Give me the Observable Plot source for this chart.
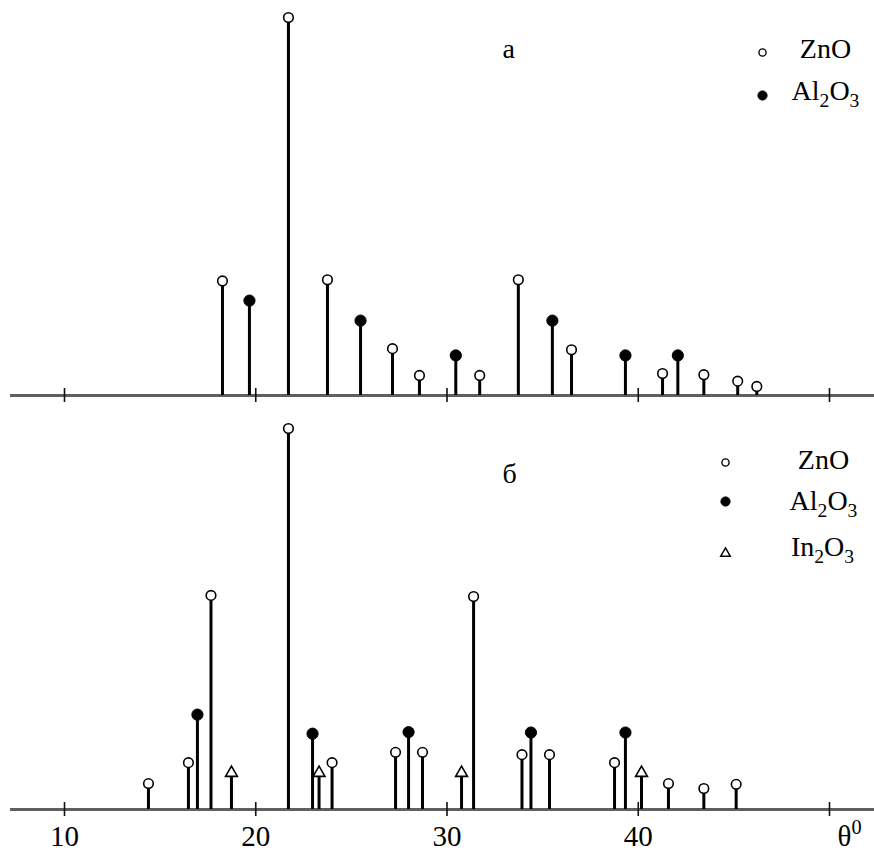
<!DOCTYPE html>
<html>
<head>
<meta charset="utf-8">
<script src="https://cdn.jsdelivr.net/npm/d3@7"></script>
<script src="https://cdn.jsdelivr.net/npm/@observablehq/plot@0.6"></script>
<style>
  html, body { margin: 0; padding: 0; background: #fff; }
  #chart { width: 874px; }
  #chart svg { display: block; }
</style>
</head>
<body>
<div id="chart"></div>
<script>
// ---- data ----
const topZnO_theta = [18.26, 21.71, 23.75, 27.15, 28.56, 31.71, 33.73, 36.51, 41.27, 43.43, 45.20, 46.20];
const topZnO_I     = [30.3, 100, 30.6, 12.4, 5.3, 5.3, 30.6, 12.1, 5.8, 5.5, 3.8, 2.4];
const topAl_theta  = [19.67, 25.48, 30.46, 35.51, 39.33, 42.07];
const topAl_I      = [25.1, 19.8, 10.6, 19.8, 10.6, 10.6];

const botZnO_theta = [14.39, 16.48, 17.66, 21.71, 23.99, 27.31, 28.72, 31.39, 33.92, 35.36, 38.76, 41.58, 43.43, 45.12];
const botZnO_I     = [6.8, 12.3, 56.2, 100, 12.3, 15.0, 15.0, 55.9, 14.4, 14.4, 12.3, 6.8, 5.5, 6.6];
const botAl_theta  = [16.95, 22.97, 27.99, 34.39, 39.33];
const botAl_I      = [24.9, 19.9, 20.3, 20.2, 20.2];
const botIn_theta  = [18.73, 23.31, 30.76, 40.17];
const botIn_I      = [9.6, 9.6, 9.6, 9.6];

const tickValues = [10, 20, 30, 40, 50];
const tickLabels = ["10", "20", "30", "40", "θ0"];
const phases = ["ZnO", "Al2O3", "In2O3"];
const panelLabels = ["а", "б"];

// ---- helpers ----
const FONT = "Liberation Serif, Times New Roman, serif";
const xDomain = [7.1765, 52.353];

function rows(thetas, Is, phase) {
  return thetas.map((t, i) => ({theta: t, I: Is[i], phase}));
}

const styleFor = {
  "ZnO":   {symbol: "circle", r: 4.8, fill: "white", stroke: "black", strokeWidth: 1.6},
  "Al2O3": {symbol: "circle", r: 5.6, fill: "black", stroke: "black", strokeWidth: 1},
  "In2O3": {symbol: "triangle", r: 4.4, fill: "white", stroke: "black", strokeWidth: 1.6}
};
const legendStyle = {
  "ZnO":   {symbol: "circle", r: 3.6, fill: "white", stroke: "black", strokeWidth: 1.4},
  "Al2O3": {symbol: "circle", r: 4.6, fill: "black", stroke: "black", strokeWidth: 1},
  "In2O3": {symbol: "triangle", r: 3.6, fill: "white", stroke: "black", strokeWidth: 1.4}
};

function richText(svg) {
  d3.select(svg).selectAll("text").each(function () {
    const s = this.textContent;
    let parts = null;
    let m = s.match(/^([A-Z][a-z]?)(\d)(O)(\d)$/);
    if (m) parts = [[m[1], 0], [m[2], 1], [m[3], 0], [m[4], 1]];
    else if (s === "θ0") parts = [["θ", 0], ["0", 2]];
    if (!parts) return;
    const el = d3.select(this);
    el.text(null);
    let shift = 0;
    for (const [txt, kind] of parts) {
      const target = kind === 1 ? 7 : kind === 2 ? -12 : 0;
      const t = el.append("tspan").text(txt).attr("dy", target - shift);
      if (kind) t.attr("font-size", "0.7em");
      shift = target;
    }
  });
}

function panel({height, marginTop, marginBottom, peaks, label, labelDy, legend, showTickLabels}) {
  const marks = [
    Plot.ruleY([0], {stroke: "#5f5f5f", strokeWidth: 3}),
    Plot.ruleX(tickValues, {x: d => d, y1: () => 0, y2: () => 0, insetTop: -7, insetBottom: -7, stroke: "#111", strokeWidth: 1.6}),
    Plot.ruleX(peaks, {x: "theta", y1: () => 0, y2: "I", stroke: "#000", strokeWidth: 3})
  ];
  for (const ph of phases) {
    const sub = peaks.filter(d => d.phase === ph);
    if (sub.length) marks.push(Plot.dot(sub, {x: "theta", y: "I", ...styleFor[ph]}));
  }
  // panel label
  marks.push(Plot.text([label], {frameAnchor: "top-left", lineAnchor: "middle", dx: 492, dy: labelDy, text: d => d,
    fontSize: 28, fontFamily: FONT, fill: "black"}));
  // legend
  legend.forEach((item) => {
    marks.push(Plot.dot([item.name], {frameAnchor: "top-left", dx: item.sx, dy: item.sy, ...legendStyle[item.name]}));
    marks.push(Plot.text([item.name], {frameAnchor: "top-left", lineAnchor: "middle", dx: item.tx, dy: item.ty, text: d => d,
      textAnchor: "middle", fontSize: 28, fontFamily: FONT, fill: "black"}));
  });
  if (showTickLabels) {
    marks.push(Plot.text(tickValues.slice(0, 4), {x: d => d, y: () => 0, dy: 27, lineAnchor: "middle",
      text: (d, i) => tickLabels[i], fontSize: 29, fontFamily: FONT, fill: "black"}));
    marks.push(Plot.text(tickValues.slice(4), {x: d => d, y: () => 0, dy: 27, dx: 8, lineAnchor: "middle", textAnchor: "start",
      text: (d, i) => tickLabels[4 + i], fontSize: 29, fontFamily: FONT, fill: "black"}));
  }
  const svg = Plot.plot({
    width: 874, height,
    marginLeft: 10, marginRight: 0, marginTop, marginBottom,
    x: {domain: xDomain, axis: null},
    y: {domain: [0, 100], axis: null},
    style: {background: "white", fontFamily: FONT, overflow: "visible"},
    marks
  });
  richText(svg);
  return svg;
}

const topPeaks = [...rows(topZnO_theta, topZnO_I, "ZnO"), ...rows(topAl_theta, topAl_I, "Al2O3")];
const botPeaks = [...rows(botZnO_theta, botZnO_I, "ZnO"), ...rows(botAl_theta, botAl_I, "Al2O3"), ...rows(botIn_theta, botIn_I, "In2O3")];

const chart = document.getElementById("chart");
chart.appendChild(panel({
  height: 412, marginTop: 17, marginBottom: 17, peaks: topPeaks,
  label: panelLabels[0], labelDy: 32, showTickLabels: false,
  legend: [
    {name: "ZnO",   sx: 752, sy: 35, tx: 815, ty: 32},
    {name: "Al2O3", sx: 752, sy: 78, tx: 815, ty: 74}
  ]
}));
chart.appendChild(panel({
  height: 439, marginTop: 16, marginBottom: 42, peaks: botPeaks,
  label: panelLabels[1], labelDy: 46, showTickLabels: true,
  legend: [
    {name: "ZnO",   sx: 715, sy: 34, tx: 813, ty: 32},
    {name: "Al2O3", sx: 715, sy: 73, tx: 813, ty: 73},
    {name: "In2O3", sx: 715, sy: 125, tx: 812, ty: 119}
  ]
}));
</script>
</body>
</html>
